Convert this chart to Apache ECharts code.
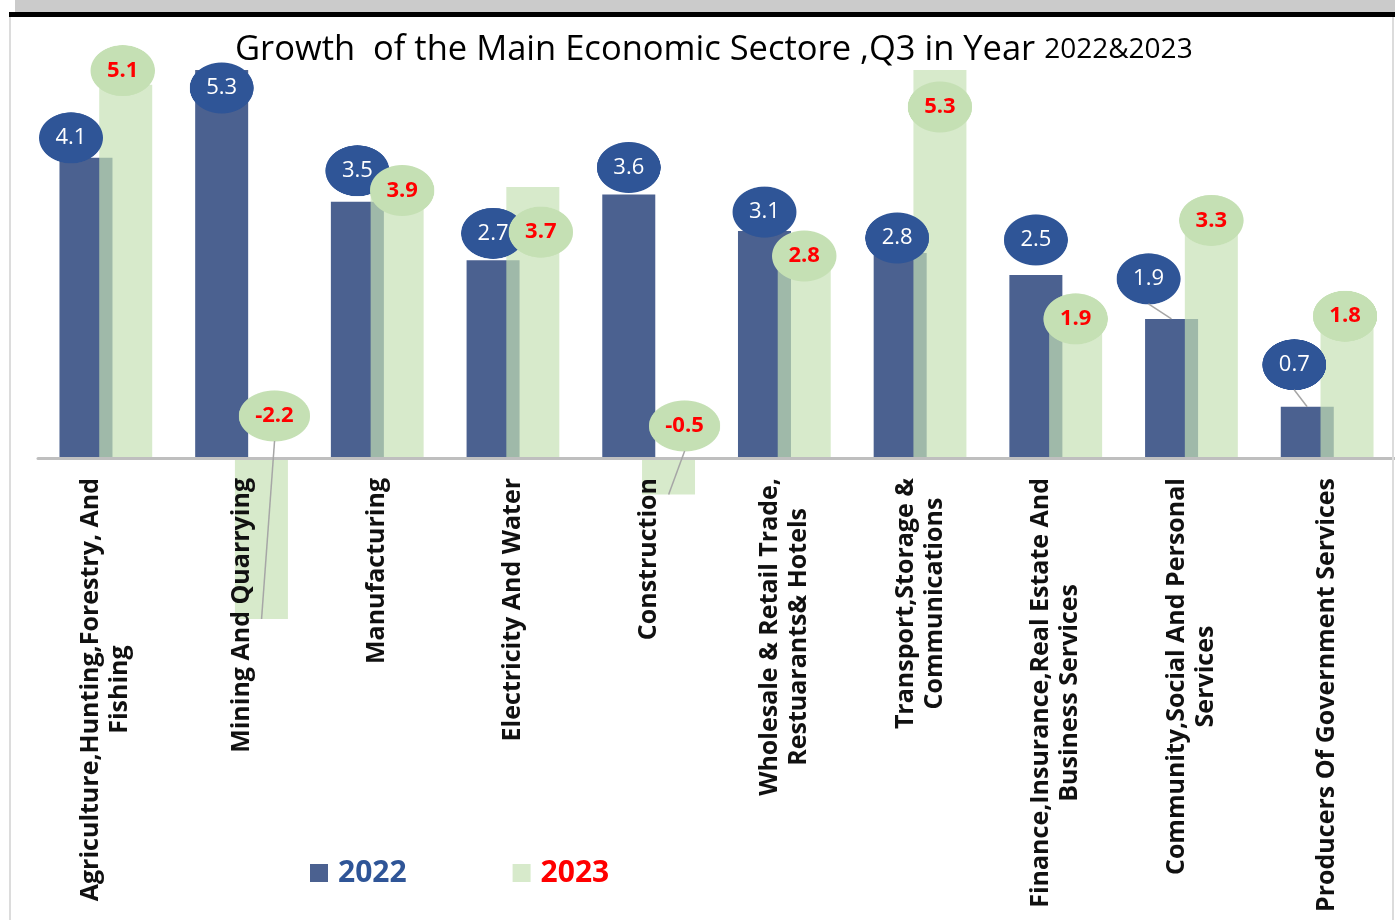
<!DOCTYPE html>
<html>
<head>
<meta charset="utf-8">
<script src="https://cdn.jsdelivr.net/npm/echarts@6/dist/echarts.min.js"></script>
<style>
  html, body { margin: 0; padding: 0; background: #fff; }
  #chart { position: absolute; left: 0; top: 0; width: 1395px; height: 920px; }
  .deco { position: absolute; pointer-events: none; }
</style>
</head>
<body>
<div id="chart"></div>
<!-- frame around the chart as in the source sheet -->
<div class="deco" style="left:15px;top:0;width:1380px;height:12px;background:#cbcbcb"></div>
<div class="deco" style="left:9px;top:12px;width:1386px;height:5px;background:#000"></div>
<div class="deco" style="left:9px;top:17px;width:2px;height:903px;background:#dcdcdc"></div>
<div class="deco" style="left:1392px;top:17px;width:2px;height:903px;background:#dcdcdc"></div>
<script>
// data
const categories = [
  "Agriculture,Hunting,Forestry, And\nFishing",
  "Mining And Quarrying",
  "Manufacturing",
  "Electricity And Water",
  "Construction",
  "Wholesale & Retail Trade,\nRestuarants& Hotels",
  "Transport,Storage &\nCommunications",
  "Finance,Insurance,Real Estate And\nBusiness Services",
  "Community,Social And Personal\nServices",
  "Producers Of Government Services"
];
const growth2022 = [4.1, 5.3, 3.5, 2.7, 3.6, 3.1, 2.8, 2.5, 1.9, 0.7];
const growth2023 = [5.1, -2.2, 3.9, 3.7, -0.5, 2.8, 5.3, 1.9, 3.3, 1.8];
const seriesNames = ["2022", "2023"];

const font = "Open Sans";
const barWidth = 53;
const barShift = 20; // half the distance between the two bar centres in a group

// where each data label bubble sits, relative to the top-centre of its bar
const shift2022 = [[-15, -20], [0, 18], [0, -31], [0, -27], [0, -27], [0, -19], [-3, -15], [0, -35], [-23, -40], [-13, -42]];
const shift2023 = [[-3, -14], [13, -42], [5, 18], [8, 45], [16, -32], [0, 3], [0, 37], [0, 0], [0, 4], [-2, -10]];
// bubbles that get a leader line back to their bar: [series, category]
const leaders = [[0, 8], [0, 9], [1, 1], [1, 4]];

function ellipse(fill) {
  const c = document.createElement("canvas");
  c.width = 130;
  c.height = 104;
  const ctx = c.getContext("2d");
  ctx.fillStyle = fill;
  ctx.beginPath();
  ctx.ellipse(65, 52, 64, 51, 0, 0, Math.PI * 2);
  ctx.fill();
  return c;
}
const blueBubble = ellipse("#2f5597");
const greenBubble = ellipse("#c5e0b4");

function layoutFor(shift) {
  return (p) => ({
    x: p.rect.x + p.rect.width / 2 + shift[p.dataIndex][0],
    y: p.rect.y + shift[p.dataIndex][1],
    align: "center",
    verticalAlign: "middle",
  });
}

const leaderData = leaders.map(([s, i]) => [i, s === 0 ? growth2022[i] : growth2023[i], s]);

const option = {
  animation: false,
  backgroundColor: "#fff",
  title: {
    left: 230,
    top: 25,
    text: "{a|Growth  of the Main Economic Sectore ,Q3 in Year }{b|2022&2023}",
    textStyle: {
      rich: {
        a: { fontFamily: font, fontSize: 34.5, fontWeight: "normal", color: "#000", lineHeight: 40 },
        b: { fontFamily: font, fontSize: 28, fontWeight: "normal", color: "#000", lineHeight: 40 },
      },
    },
  },
  legend: {
    left: 310,
    top: 858,
    padding: 0,
    icon: "rect",
    itemWidth: 18,
    itemHeight: 18,
    itemGap: 106,
    textStyle: { fontFamily: font, fontSize: 30, fontWeight: "bold", padding: [0, 0, 0, 5] },
    data: [
      { name: "2022", textStyle: { color: "#2f5597" } },
      { name: "2023", textStyle: { color: "#ff0000" } },
    ],
  },
  grid: { left: 38, right: 0, top: 70, bottom: 301, outerBoundsMode: "none", containLabel: false },
  xAxis: {
    type: "category",
    z: 3,
    data: categories,
    axisTick: { show: false },
    axisLine: { onZero: true, lineStyle: { color: "#bfbfbf", width: 3 } },
    axisLabel: {
      interval: 0,
      rotate: 90,
      margin: -141,
      formatter: (v) => v.split("\n").map((s) => "{c|" + s + "}").join("\n"),
      rich: {
        c: { fontFamily: font, fontSize: 25, fontWeight: "bold", color: "#111", lineHeight: 29, align: "center" },
      },
    },
  },
  yAxis: {
    type: "value",
    show: false,
    min: -2.2,
    max: 5.3,
    splitLine: { show: false },
  },
  series: [
    {
      name: seriesNames[0],
      type: "bar",
      barWidth: barWidth,
      barGap: "-25%",
      itemStyle: { color: "#4b6190" },
      data: growth2022,
      label: {
        show: true,
        position: "top",
        color: "#fff",
        fontFamily: font,
        fontSize: 22,
        lineHeight: 22,
        padding: [15, 17],
        backgroundColor: { image: blueBubble },
        formatter: (p) => p.value.toFixed(1),
      },
      labelLayout: layoutFor(shift2022),
    },
    {
      name: seriesNames[1],
      type: "bar",
      barWidth: barWidth,
      barGap: "-25%",
      itemStyle: { color: "rgba(197,224,180,0.69)" },
      data: growth2023,
      label: {
        show: true,
        position: "top",
        color: "#ff0000",
        fontFamily: font,
        fontSize: 22,
        fontWeight: "bold",
        lineHeight: 22,
        padding: [15, 17],
        backgroundColor: { image: greenBubble },
        formatter: (p) => p.value.toFixed(1),
      },
      labelLayout: layoutFor(shift2023),
    },
    {
      // leader lines from a moved bubble back to the end of its bar
      type: "custom",
      silent: true,
      z: 4,
      data: leaderData,
      renderItem: (params, api) => {
        const cat = api.value(0);
        const val = api.value(1);
        const s = api.value(2);
        const end = api.coord([cat, val]);
        const zero = api.coord([cat, 0]);
        const bx = end[0] + (s === 0 ? -barShift : barShift);
        const shift = (s === 0 ? shift2022 : shift2023)[cat];
        const lx = bx + shift[0];
        const ly = Math.min(end[1], zero[1]) + shift[1] + 25;
        return {
          type: "line",
          shape: { x1: lx, y1: ly, x2: bx, y2: end[1] },
          style: { stroke: "#a6a6a6", lineWidth: 1.5 },
        };
      },
    },
  ],
};

const chart = echarts.init(document.getElementById("chart"), null, { renderer: "canvas" });
chart.setOption(option);
</script>
</body>
</html>
